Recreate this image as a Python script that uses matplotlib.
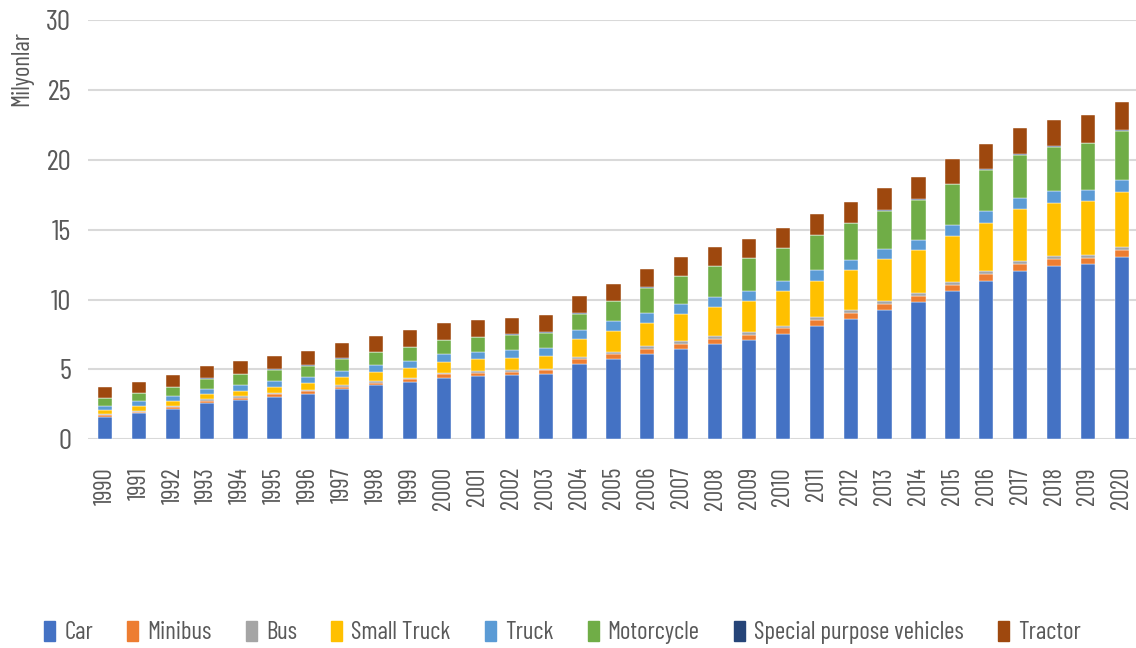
import matplotlib
matplotlib.use('Agg')
import matplotlib.pyplot as plt
import matplotlib.patches as mpatches
import numpy as np

# ── Data (millions of vehicles) ─────────────────────────────
years = [str(y) for y in range(1990, 2021)]

car = [1.62, 1.86, 2.17, 2.62, 2.83, 3.05, 3.26, 3.58, 3.86, 4.10,
       4.41, 4.53, 4.60, 4.69, 5.41, 5.77, 6.12, 6.48, 6.79, 7.10,
       7.55, 8.13, 8.63, 9.27, 9.84, 10.61, 11.35, 12.06, 12.42, 12.52,
       13.05]
minibus = [0.125, 0.131, 0.138, 0.148, 0.155, 0.160, 0.173, 0.189, 0.200, 0.212,
           0.239, 0.241, 0.245, 0.250, 0.318, 0.338, 0.357, 0.372, 0.383, 0.384,
           0.387, 0.390, 0.397, 0.421, 0.428, 0.450, 0.463, 0.479, 0.485, 0.479,
           0.496]
bus = [0.068, 0.072, 0.078, 0.084, 0.087, 0.090, 0.095, 0.100, 0.105, 0.110,
       0.118, 0.120, 0.121, 0.124, 0.152, 0.163, 0.176, 0.189, 0.199, 0.202,
       0.208, 0.216, 0.236, 0.219, 0.211, 0.217, 0.220, 0.221, 0.217, 0.213,
       0.222]
small_truck = [0.29, 0.31, 0.33, 0.38, 0.42, 0.43, 0.48, 0.57, 0.64, 0.69,
               0.79, 0.83, 0.89, 0.93, 1.30, 1.50, 1.69, 1.91, 2.09, 2.24,
               2.46, 2.62, 2.82, 2.99, 3.04, 3.29, 3.48, 3.69, 3.80, 3.82,
               3.94]
truck = [0.31, 0.34, 0.35, 0.34, 0.38, 0.41, 0.43, 0.43, 0.48, 0.50,
         0.52, 0.55, 0.52, 0.53, 0.63, 0.67, 0.69, 0.72, 0.72, 0.72,
         0.71, 0.74, 0.74, 0.73, 0.77, 0.77, 0.84, 0.82, 0.83, 0.83,
         0.86]
motorcycle = [0.55, 0.60, 0.67, 0.78, 0.79, 0.84, 0.83, 0.91, 0.98, 0.98,
              1.03, 1.03, 1.12, 1.12, 1.18, 1.45, 1.81, 1.99, 2.21, 2.31,
              2.38, 2.50, 2.66, 2.71, 2.84, 2.92, 2.95, 3.10, 3.19, 3.31,
              3.53]
special = [0.02, 0.02, 0.02, 0.02, 0.02, 0.02, 0.02, 0.02, 0.02, 0.02,
           0.02, 0.02, 0.02, 0.02, 0.03, 0.03, 0.03, 0.03, 0.03, 0.03,
           0.03, 0.03, 0.03, 0.04, 0.04, 0.05, 0.05, 0.05, 0.05, 0.05,
           0.05]
tractor = [0.76, 0.76, 0.84, 0.86, 0.90, 0.95, 1.01, 1.10, 1.10, 1.18,
           1.22, 1.19, 1.15, 1.22, 1.22, 1.21, 1.31, 1.34, 1.34, 1.38,
           1.43, 1.50, 1.50, 1.57, 1.62, 1.72, 1.81, 1.86, 1.89, 1.96,
           1.97]

labels = ['Car', 'Minibus', 'Bus', 'Small Truck', 'Truck', 'Motorcycle',
          'Special purpose vehicles', 'Tractor']
series = [car, minibus, bus, small_truck, truck, motorcycle, special, tractor]
colors = ['#4472C4', '#ED7D31', '#A5A5A5', '#FFC000', '#5B9BD5', '#70AD47',
          '#264478', '#9E480E']

FONT = ['Barlow Condensed', 'Asap Condensed', 'DejaVu Sans']
GREY = '#595959'
plt.rcParams['font.family'] = FONT

# ── Figure ──────────────────────────────────────────────────
fig = plt.figure(figsize=(11.36, 6.48), dpi=100)
ax = fig.add_axes([0.0775, 0.322, 0.925, 0.647])

x = np.arange(len(years))
bottom = np.zeros(len(years))
for vals, col in zip(series, colors):
    ax.bar(x, vals, bottom=bottom, width=0.42, color=col,
           edgecolor='#ffffff', linewidth=0.3, zorder=3)
    bottom += np.array(vals)

ax.set_xlim(-0.5, 30.5)
ax.set_ylim(0, 30)
ax.set_yticks(range(0, 31, 5))
ax.yaxis.grid(True, color='#D9D9D9', linewidth=1.5, zorder=0)
ax.set_axisbelow(True)
for s in ax.spines.values():
    s.set_visible(False)

ax.set_xticks(x)
ax.set_xticklabels(years, rotation=90, fontsize=18, color=GREY)
ax.tick_params(axis='y', length=0, pad=12, labelsize=21, labelcolor=GREY)
ax.tick_params(axis='x', length=0, pad=20)
ax.set_ylabel('Milyonlar', fontsize=18, color=GREY)
ax.yaxis.set_label_coords(-0.052, 0.885)

handles = [mpatches.Patch(color=c, label=l) for c, l in zip(colors, labels)]
fig.legend(handles=handles, loc='center', bbox_to_anchor=(0.495, 0.024),
           ncol=8, frameon=False, fontsize=18, labelcolor=GREY,
           handlelength=0.45, handleheight=0.85, handletextpad=0.35,
           columnspacing=1.37)

plt.savefig('out.png', dpi=100)
